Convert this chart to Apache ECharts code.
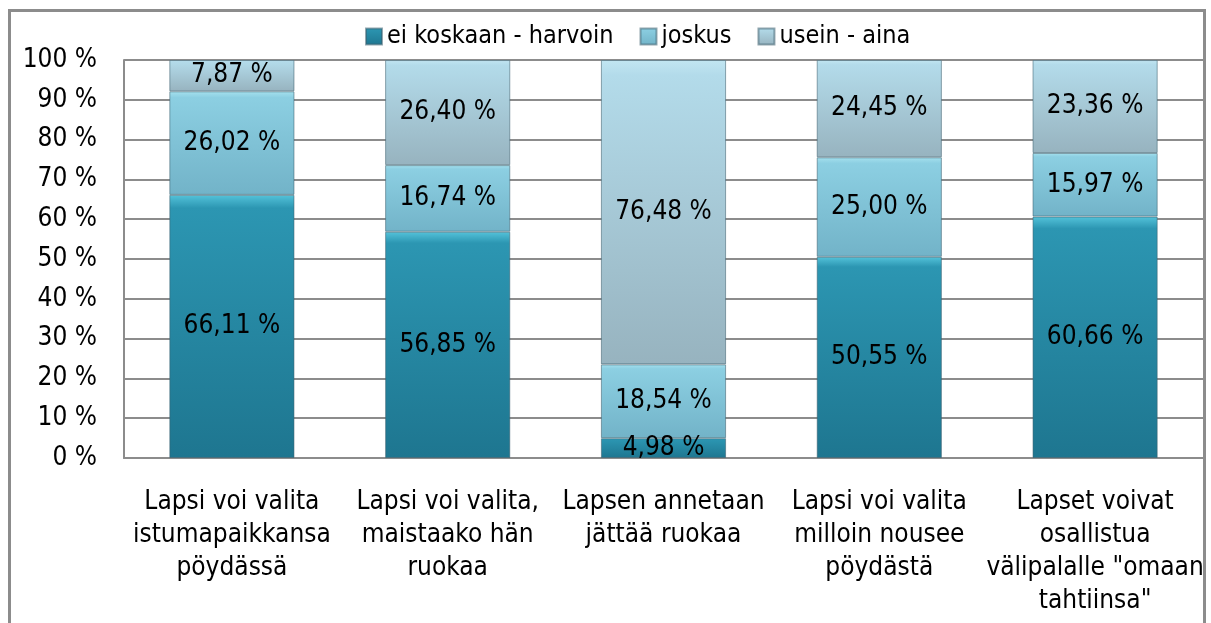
<!DOCTYPE html>
<html>
<head>
<meta charset="utf-8">
<script src="https://cdn.jsdelivr.net/npm/echarts@6/dist/echarts.min.js"></script>
<style>
    html, body { margin: 0; padding: 0; background: #fff; }
    #chart { width: 1211px; height: 623px; }
</style>
</head>
<body>
<div id="chart"></div>
<script>
// kategoriat ja arvot (%)
var categories = [
    "Lapsi voi valita\nistumapaikkansa\npöydässä",
    "Lapsi voi valita,\nmaistaako hän\nruokaa",
    "Lapsen annetaan\njättää ruokaa",
    "Lapsi voi valita\nmilloin nousee\npöydästä",
    "Lapset voivat\nosallistua\nvälipalalle \"omaan\ntahtiinsa\""
];
var seriesNames = ["ei koskaan - harvoin", "joskus", "usein - aina"];
var eiKoskaan = [66.11, 56.85, 4.98, 50.55, 60.66];
var joskus = [26.02, 16.74, 18.54, 25.00, 15.97];
var useinAina = [7.87, 26.40, 76.48, 24.45, 23.36];

var font = "'Liberation Sans Narrow', 'DejaVu Sans Condensed', sans-serif";

// "kupera" vaikutelma pystysuuntaisella liukuvärillä
var colors = [
    new echarts.graphic.LinearGradient(0, 0, 0, 1, [
        { offset: 0, color: "#54c3da" },
        { offset: 0.05, color: "#2c96b2" },
        { offset: 1, color: "#1e7690" }
    ]),
    new echarts.graphic.LinearGradient(0, 0, 0, 1, [
        { offset: 0, color: "#a6e1ee" },
        { offset: 0.06, color: "#8ccfe2" },
        { offset: 1, color: "#72b3c8" }
    ]),
    new echarts.graphic.LinearGradient(0, 0, 0, 1, [
        { offset: 0, color: "#c2e6f2" },
        { offset: 0.05, color: "#b3dbea" },
        { offset: 1, color: "#97b3bf" }
    ])
];
var legendColors = ["#2a8fab", "#86c9dc", "#a9c8d4"];

function fmt(p) {
    return p.value.toFixed(2).replace(".", ",") + " %";
}

function makeSeries(name, data, idx) {
    return {
        name: name,
        type: "bar",
        stack: "total",
        barWidth: "58%",
        data: data,
        itemStyle: {
            color: colors[idx],
            borderColor: "rgba(60,95,110,0.55)",
            borderWidth: 1
        },
        label: {
            show: true,
            position: "inside",
            formatter: fmt,
            color: "#000",
            fontFamily: font,
            fontSize: 26
        }
    };
}

var chart = echarts.init(document.getElementById("chart"));
var option = {
    backgroundColor: "#fff",
    animation: false,
    color: legendColors,
    graphic: [
        {
            type: "rect",
            z: -10,
            shape: { x: 9.5, y: 10.5, width: 1195, height: 700 },
            style: { fill: "none", stroke: "#8c8c8c", lineWidth: 3 }
        }
    ],
    legend: {
        top: 19,
        left: 360,
        itemGap: 26,
        itemWidth: 16,
        itemHeight: 16,
        icon: "rect",
        textStyle: { fontFamily: font, fontSize: 25, color: "#000" },
        data: seriesNames
    },
    grid: {
        left: 124,
        right: 8,
        top: 60,
        bottom: 165
    },
    xAxis: {
        type: "category",
        data: categories,
        axisTick: { show: false },
        axisLine: { lineStyle: { color: "#8c8c8c", width: 2 } },
        axisLabel: {
            interval: 0,
            margin: 28,
            color: "#000",
            fontFamily: font,
            fontSize: 26,
            lineHeight: 33,
            align: "center"
        }
    },
    yAxis: {
        type: "value",
        min: 0,
        max: 100,
        interval: 10,
        axisLine: { show: true, lineStyle: { color: "#8c8c8c", width: 2 } },
        axisTick: { show: false },
        splitLine: { lineStyle: { color: "#8c8c8c", width: 2 } },
        axisLabel: {
            formatter: "{value} %",
            margin: 27,
            color: "#000",
            fontFamily: font,
            fontSize: 26
        }
    },
    series: [
        makeSeries(seriesNames[0], eiKoskaan, 0),
        makeSeries(seriesNames[1], joskus, 1),
        makeSeries(seriesNames[2], useinAina, 2)
    ]
};
chart.setOption(option);
</script>
</body>
</html>
